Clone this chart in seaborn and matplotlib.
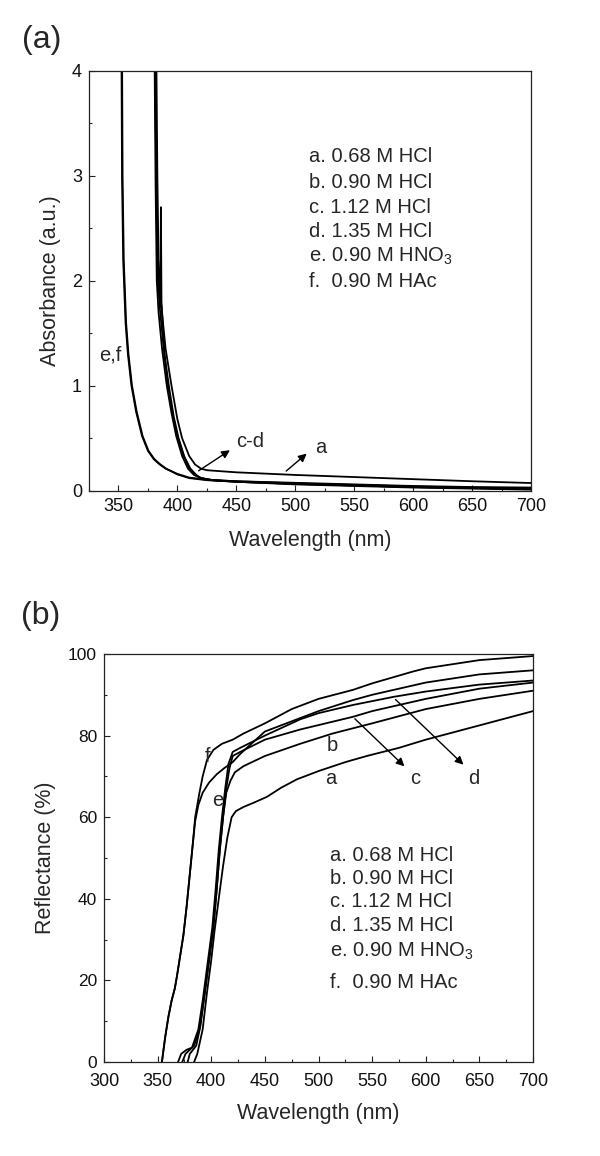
import numpy as np
import pandas as pd
import matplotlib
matplotlib.use("Agg")
import matplotlib.pyplot as plt
import seaborn as sns
from matplotlib.ticker import MultipleLocator

# ---------------- Panel (a): absorbance ----------------
abs_a_wl = [382, 383, 384, 386, 390, 395, 400, 404, 410, 415, 420, 425, 450, 500, 550, 600, 650, 700]
abs_a_val = [4.3, 3.0, 2.2, 1.8, 1.35, 1.0, 0.68, 0.5, 0.33, 0.25, 0.21, 0.195, 0.175, 0.15, 0.13, 0.11, 0.09, 0.073]
abs_b_wl = [381, 382, 383, 385, 388, 392, 396, 400, 405, 410, 415, 420, 430, 450, 500, 550, 600, 650, 700]
abs_b_val = [4.3, 3.0, 2.1, 1.75, 1.4, 1.0, 0.72, 0.52, 0.34, 0.22, 0.15, 0.12, 0.10, 0.09, 0.075, 0.06, 0.045, 0.035, 0.03]
abs_c_wl = [380.5, 381.5, 382.5, 384, 387, 391, 395, 399, 404, 409, 414, 420, 430, 450, 500, 550, 600, 650, 700]
abs_c_val = [4.3, 2.9, 2.0, 1.7, 1.35, 1.0, 0.74, 0.52, 0.33, 0.21, 0.15, 0.12, 0.10, 0.085, 0.065, 0.05, 0.035, 0.025, 0.02]
abs_d_wl = [381, 382, 384, 385.5, 386, 386.5, 389, 393, 397, 401, 406, 411, 416, 420, 430, 450, 500, 550, 600, 650, 700]
abs_d_val = [4.3, 3.0, 2.0, 1.75, 2.7, 1.8, 1.3, 0.98, 0.7, 0.5, 0.32, 0.21, 0.15, 0.12, 0.10, 0.085, 0.06, 0.045, 0.03, 0.02, 0.01]
abs_e_wl = [352.5, 353, 354, 356, 358, 361, 365, 370, 375, 380, 385, 390, 400, 410, 425, 450, 500, 550, 600, 650, 700]
abs_e_val = [4.3, 3.0, 2.2, 1.6, 1.3, 1.0, 0.75, 0.52, 0.38, 0.30, 0.25, 0.21, 0.16, 0.125, 0.105, 0.09, 0.07, 0.055, 0.04, 0.03, 0.02]
abs_f_wl = [353, 353.5, 354.5, 356.5, 358.5, 361.5, 365.5, 370.5, 375.5, 380.5, 385.5, 390.5, 400, 410, 425, 450, 500, 550, 600, 650, 700]
abs_f_val = [4.3, 3.0, 2.2, 1.6, 1.3, 1.0, 0.75, 0.52, 0.38, 0.30, 0.25, 0.21, 0.155, 0.12, 0.10, 0.085, 0.065, 0.05, 0.035, 0.025, 0.015]

# ---------------- Panel (b): reflectance ----------------
ref_a_wl = [384, 387, 392, 396, 400, 403, 407, 411, 415, 419, 423, 430, 440, 452, 465, 480, 500, 525, 545, 575, 600, 650, 700]
ref_a_val = [0, 2, 8, 17, 25, 32, 40, 48, 55, 60, 61.5, 62.5, 63.6, 65, 67.2, 69.3, 71.3, 73.5, 75, 77, 79, 82.5, 86]
ref_b_wl = [378, 380, 383, 386, 390, 393, 396, 399, 402, 405, 408, 411, 414, 418, 422, 430, 450, 483, 513, 550, 600, 650, 700]
ref_b_val = [0, 2, 3, 4, 9, 15, 21, 27, 33, 42, 52, 60, 66, 69, 71, 72.5, 75, 78, 80.5, 83, 86.5, 89, 91]
ref_c_wl = [373, 376, 380, 384, 389, 393, 396, 399, 402, 405, 408, 411, 414, 417, 420, 427, 450, 483, 532, 550, 600, 650, 700]
ref_c_val = [0, 2, 3, 4, 8, 15, 21, 27, 33, 42, 52, 60, 67, 72, 75, 76, 79, 81.5, 84.6, 86, 89, 91.5, 93]
ref_d_wl = [369, 372, 377, 382, 388, 392, 395, 398, 401, 404, 407, 410, 413, 416, 420, 427, 450, 483, 500, 532, 570, 600, 650, 700]
ref_d_val = [0, 2, 3, 3.5, 8, 15, 21, 27, 33, 42, 52, 60, 67, 73, 76, 77, 80, 84, 85.5, 87.5, 89.5, 90.8, 92.5, 93.5]
ref_e_wl = [354, 355, 357, 360, 363, 366, 368, 371, 374, 377, 380, 383, 385, 388, 392, 398, 405, 412, 420, 427, 450, 500, 532, 550, 600, 650, 700]
ref_e_val = [0, 2, 6, 11, 15, 18, 21, 26, 31, 38, 46, 54, 59, 63, 66, 68.5, 70.5, 72, 73.5, 75.5, 81, 86, 88.7, 90, 93, 95, 96]
ref_f_wl = [354, 355, 357, 360, 363, 366, 368, 371, 374, 377, 380, 383, 385, 389, 392, 396, 402, 410, 420, 430, 450, 475, 500, 532, 550, 588, 600, 650, 700]
ref_f_val = [0, 2, 6, 11, 15, 18, 21, 26, 31, 38, 46, 54, 60, 66, 70, 74, 76.5, 78, 79, 80.5, 83, 86.5, 89, 91.2, 92.8, 95.7, 96.5, 98.5, 99.5]

legend_lines = ["a. 0.68 M HCl", "b. 0.90 M HCl", "c. 1.12 M HCl", "d. 1.35 M HCl",
                "e. 0.90 M HNO$_3$", "f.  0.90 M HAc"]

sns.set_style("ticks")
plt.rcParams['font.family'] = ['Liberation Sans', 'DejaVu Sans']
plt.rcParams['mathtext.fontset'] = 'custom'
plt.rcParams['mathtext.rm'] = 'Liberation Sans'
plt.rcParams['mathtext.it'] = 'Liberation Sans'
plt.rcParams['mathtext.default'] = 'regular'

fig = plt.figure(figsize=(6.0, 11.56), dpi=100)
axA = fig.add_axes([89/600, 1 - 490.7/1156, (531 - 89)/600, (490.7 - 70.7)/1156])
axB = fig.add_axes([104/600, 1 - 1062/1156, (533 - 104)/600, (1062 - 654)/1156])

LW = 1.3
def draw(ax, wl, val):
    df = pd.DataFrame({"wl": wl, "v": val})
    sns.lineplot(data=df, x="wl", y="v", ax=ax, color="black", lw=LW,
                 sort=False, estimator=None)

for wl, v in [(abs_a_wl, abs_a_val), (abs_b_wl, abs_b_val), (abs_c_wl, abs_c_val),
              (abs_d_wl, abs_d_val), (abs_e_wl, abs_e_val), (abs_f_wl, abs_f_val)]:
    draw(axA, wl, v)
for wl, v in [(ref_a_wl, ref_a_val), (ref_b_wl, ref_b_val), (ref_c_wl, ref_c_val),
              (ref_d_wl, ref_d_val), (ref_e_wl, ref_e_val), (ref_f_wl, ref_f_val)]:
    draw(axB, wl, v)

for ax in (axA, axB):
    for s in ax.spines.values():
        s.set_linewidth(0.9)
        s.set_color("#222222")
    ax.tick_params(which="major", direction="in", length=4.5, width=0.8, labelsize=13,
                   colors="#222222", pad=5)
    ax.tick_params(which="minor", direction="in", length=2.5, width=0.8)
    ax.tick_params(axis="both", labelcolor="#111111")
axB.tick_params(axis="x", which="major", pad=8)
axB.tick_params(axis="y", which="major", labelsize=12.5)

axA.set_xlim(325, 700)
axA.set_ylim(0, 4)
axA.xaxis.set_major_locator(MultipleLocator(50))
axA.xaxis.set_minor_locator(MultipleLocator(25))
axA.yaxis.set_major_locator(MultipleLocator(1))
axA.yaxis.set_minor_locator(MultipleLocator(0.5))
axA.set_xlabel("Wavelength (nm)", fontsize=15.5, labelpad=11)
axA.set_ylabel("Absorbance (a.u.)", fontsize=15.5, labelpad=8)

axB.set_xlim(300, 700)
axB.set_ylim(0, 100)
axB.xaxis.set_major_locator(MultipleLocator(50))
axB.xaxis.set_minor_locator(MultipleLocator(25))
axB.yaxis.set_major_locator(MultipleLocator(20))
axB.yaxis.set_minor_locator(MultipleLocator(10))
axB.set_xlabel("Wavelength (nm)", fontsize=15.5, labelpad=9)
axB.set_ylabel("Reflectance (%)", fontsize=15.5, labelpad=9)

# legends as text blocks
leg_y_a = [3.18, 2.94, 2.70, 2.47, 2.23, 1.99]
for t, y in zip(legend_lines, leg_y_a):
    axA.text(511.5, y, t, fontsize=14.5, va="center", ha="left")
leg_y_b = [50.7, 45.0, 39.3, 33.4, 27.2, 19.6]
for t, y in zip(legend_lines, leg_y_b):
    axB.text(510.5, y, t, fontsize=14.5, va="center", ha="left")

arrow = dict(arrowstyle="-|>", color="black", lw=1.0, mutation_scale=12)
# panel (a) annotations
axA.annotate("", xy=(446.5, 0.40), xytext=(416, 0.175), arrowprops=arrow)
axA.text(450, 0.47, "c-d", fontsize=14.5, va="center", ha="left")
axA.annotate("", xy=(511.5, 0.37), xytext=(490.5, 0.17), arrowprops=arrow)
axA.text(517, 0.41, "a", fontsize=14.5, va="center", ha="left")
axA.text(334, 1.29, "e,f", fontsize=14.5, va="center", ha="left")

# panel (b) annotations
axB.annotate("", xy=(582, 72), xytext=(532, 84.6), arrowprops=arrow)
axB.text(590, 69.6, "c", fontsize=14.5, va="center", ha="center")
axB.annotate("", xy=(637, 72.4), xytext=(570, 89.3), arrowprops=arrow)
axB.text(645, 69.6, "d", fontsize=14.5, va="center", ha="center")
axB.text(513, 77.5, "b", fontsize=14.5, va="center", ha="center")
axB.text(511, 69.5, "a", fontsize=14.5, va="center", ha="center")
axB.text(397, 75, "f", fontsize=14.5, va="center", ha="center")
axB.text(406, 64, "e", fontsize=14.5, va="center", ha="center")

fig.text(22/600, 1 - 40/1156, "(a)", fontsize=23, va="center", ha="left")
fig.text(21/600, 1 - 616/1156, "(b)", fontsize=23, va="center", ha="left")

fig.savefig("out.png", dpi=100, facecolor="white")
